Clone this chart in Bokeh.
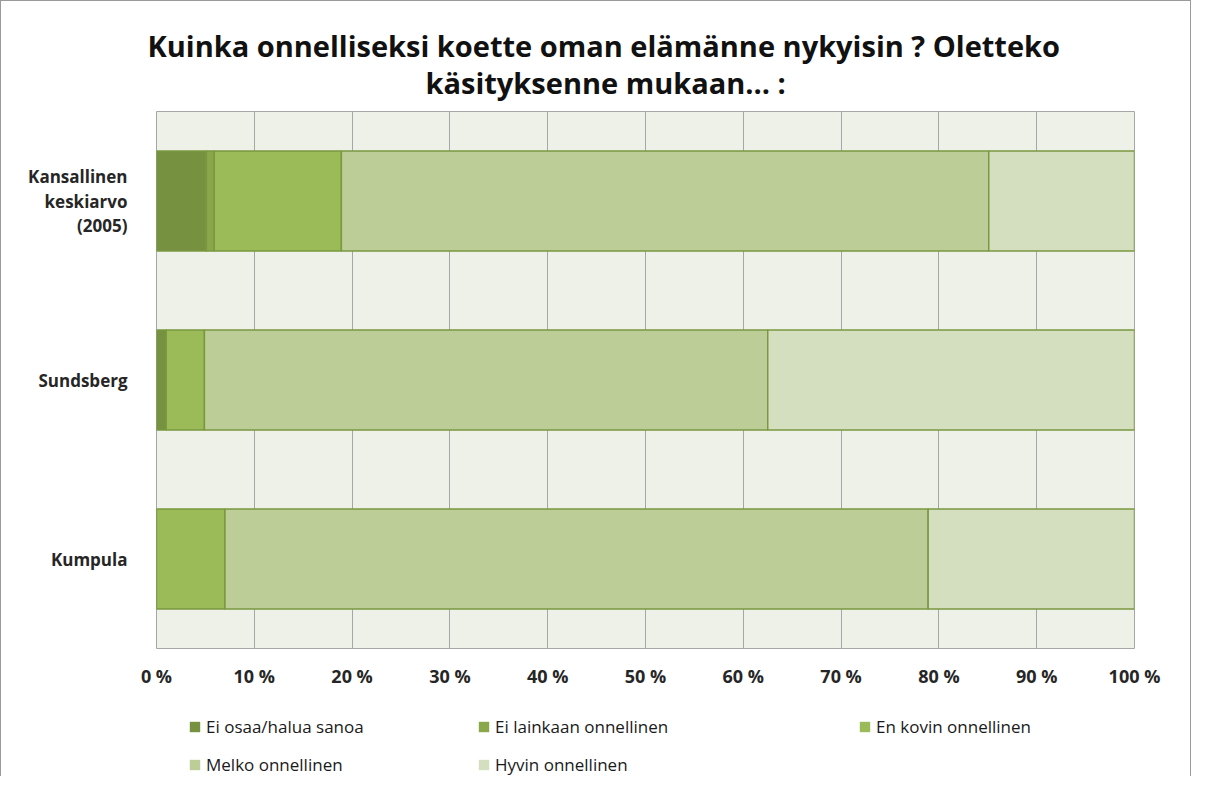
from bokeh.plotting import figure
from bokeh.layouts import column
from bokeh.models import (FactorRange, FixedTicker, Legend, LegendItem, Title,
                          ColumnDataSource, Range1d)
from bokeh.embed import file_html
from bokeh.resources import INLINE

# ---- data ----
categories = ["Kansallinen\nkeskiarvo\n(2005)", "Sundsberg", "Kumpula"]
series = ["Ei osaa/halua sanoa", "Ei lainkaan onnellinen", "En kovin onnellinen",
          "Melko onnellinen", "Hyvin onnellinen"]
ei_osaa = [5.1, 1.0, 0.0]
ei_lainkaan = [0.8, 0.0, 0.0]
en_kovin = [13.0, 3.9, 7.0]
melko = [66.2, 57.6, 71.9]
hyvin = [14.9, 37.5, 21.1]
tick_values = [0, 10, 20, 30, 40, 50, 60, 70, 80, 90, 100]
tick_labels = ["0 %", "10 %", "20 %", "30 %", "40 %", "50 %", "60 %", "70 %",
               "80 %", "90 %", "100 %"]
title_lines = ["Kuinka onnelliseksi koette oman elämänne nykyisin ? Oletteko",
               "käsityksenne mukaan... :"]

colors = ["#76913F", "#8AA84A", "#9BBB59", "#BCCD97", "#D4DFBF"]
edge = "#7A9840"
FONT = "Open Sans"
stack_keys = ["s0", "s1", "s2", "s3", "s4"]

source = ColumnDataSource(dict(cat=categories, s0=ei_osaa, s1=ei_lainkaan,
                               s2=en_kovin, s3=melko, s4=hyvin))

# ---- main chart ----
p = figure(width=1189, height=700, output_backend="svg", toolbar_location=None,
           x_range=(0, 100), y_range=FactorRange(factors=categories[::-1]),
           min_border_left=155, min_border_right=56, min_border_top=110,
           min_border_bottom=53)
p.background_fill_color = "#EEF1E7"
p.border_fill_color = "white"
p.outline_line_color = "#A6A6A6"
p.outline_line_width = 1

renderers = p.hbar_stack(stack_keys, y="cat", height=0.56, color=colors,
                         line_color=edge, line_width=1.5, source=source)

p.ygrid.grid_line_color = None
p.xgrid.grid_line_color = "#A6A6A6"
p.xgrid.grid_line_width = 1
p.xgrid.ticker = FixedTicker(ticks=tick_values)

xa = p.xaxis[0]
xa.ticker = FixedTicker(ticks=tick_values)
xa.major_label_overrides = {v: t for v, t in zip(tick_values, tick_labels)}
xa.axis_line_color = None
xa.major_tick_line_color = None
xa.minor_tick_line_color = None
xa.major_label_standoff = 9
xa.major_label_text_font = FONT
xa.major_label_text_font_style = "bold"
xa.major_label_text_font_size = "18px"
xa.major_label_text_color = "#262626"

ya = p.yaxis[0]
ya.axis_line_color = None
ya.major_tick_line_color = None
ya.minor_tick_line_color = None
ya.major_label_standoff = 23
ya.major_label_text_font = FONT
ya.major_label_text_font_style = "bold"
ya.major_label_text_font_size = "17px"
ya.major_label_text_line_height = 1.05
ya.major_label_text_color = "#262626"

p.title.visible = False
p.add_layout(Title(text=title_lines[1], align="left", offset=269,
                   text_font=FONT, text_font_style="bold",
                   text_font_size="29px", text_color="#111111", standoff=20),
             "above")
p.add_layout(Title(text=title_lines[0], align="left", offset=-9,
                   text_font=FONT, text_font_style="bold",
                   text_font_size="29px", text_color="#111111", standoff=-28),
             "above")

# ---- legend strip: key glyphs only (zero-height bars, outside visible range) ----
pl = figure(width=1189, height=75, output_backend="svg", toolbar_location=None,
            x_range=Range1d(200, 300),
            y_range=FactorRange(factors=categories[::-1]),
            min_border_left=0, min_border_right=0, min_border_top=0,
            min_border_bottom=0)
pl.axis.visible = False
pl.grid.visible = False
pl.outline_line_color = None
pl.background_fill_color = "white"
pl.border_fill_color = "white"

key_renderers = pl.hbar_stack(stack_keys, y="cat", height=0, color=colors,
                              line_color=None, source=source)

# offsets measured from the (aligned) plot-area left edge
positions = [(32, 38), (321, 38), (702, 38), (32, 0), (321, 0)]
for r, name, loc in zip(key_renderers, series, positions):
    pl.add_layout(Legend(items=[LegendItem(label=name, renderers=[r])],
                         location=loc, border_line_color=None,
                         background_fill_alpha=0, padding=0, margin=0,
                         glyph_width=13, glyph_height=13, label_standoff=5,
                         label_text_font=FONT, label_text_font_size="17px",
                         label_text_color="#1A1A1A", label_height=13))

layout = column(p, pl, spacing=0,
                styles={"border-top": "1px solid #9A9A9A",
                        "border-left": "1px solid #9A9A9A",
                        "border-right": "1px solid #9A9A9A"})

open("out.html", "w").write(file_html(layout, INLINE))
